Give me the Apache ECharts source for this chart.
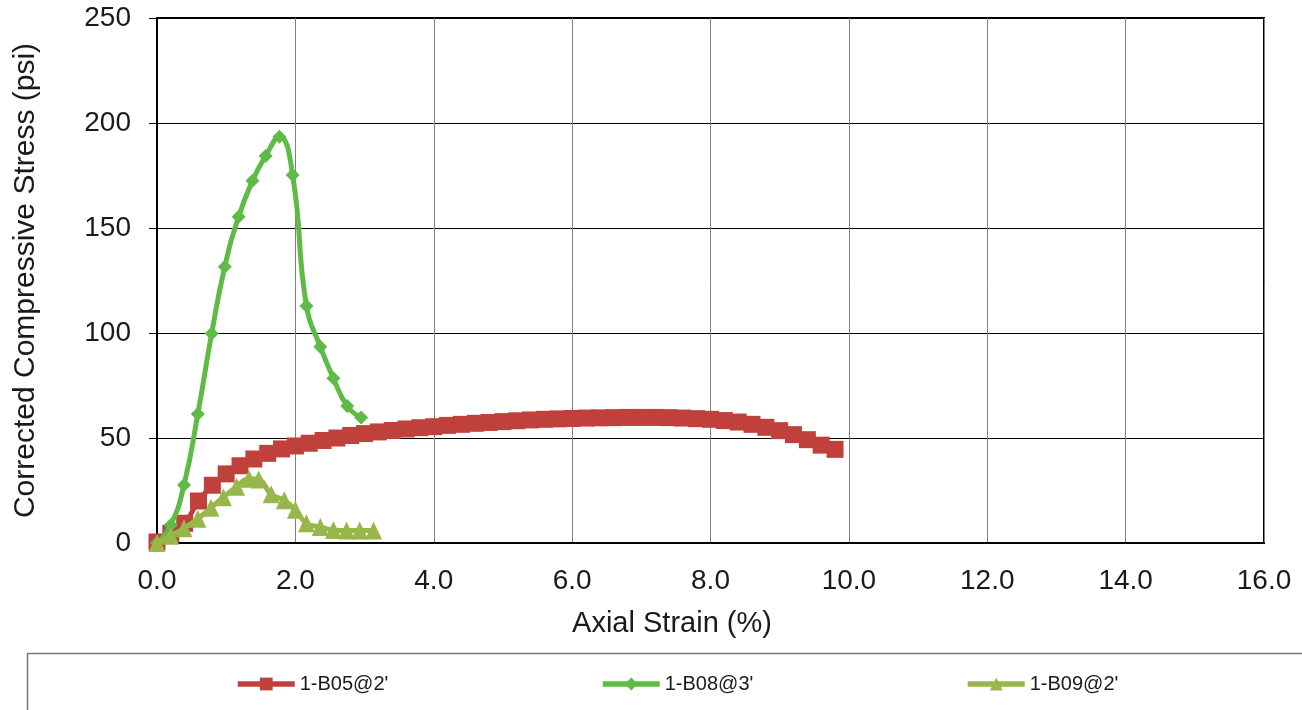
<!DOCTYPE html>
<html>
<head>
<meta charset="utf-8">
<script src="https://cdn.jsdelivr.net/npm/echarts@6/dist/echarts.min.js"></script>
<style>
html,body{margin:0;padding:0;background:#fff;}
#chart{width:1302px;height:710px;}
</style>
</head>
<body>
<div id="chart"></div>
<script>
// ---- Data ----
var seriesNames = ["1-B05@2'", "1-B08@3'", "1-B09@2'"];

var b05Strain = [0.0, 0.2, 0.4, 0.6, 0.8, 1.0, 1.2, 1.4, 1.6, 1.8,
                 2.0, 2.2, 2.4, 2.6, 2.8, 3.0, 3.2, 3.4, 3.6, 3.8,
                 4.0, 4.2, 4.4, 4.6, 4.8, 5.0, 5.2, 5.4, 5.6, 5.8,
                 6.0, 6.2, 6.4, 6.6, 6.8, 7.0, 7.2, 7.4, 7.6, 7.8,
                 8.0, 8.2, 8.4, 8.6, 8.8, 9.0, 9.2, 9.4, 9.6, 9.8];
var b05Stress = [0.5, 4.6, 9.4, 20.0, 27.5, 32.9, 36.8, 40.0, 42.7, 44.8,
                 46.2, 47.5, 48.8, 50.0, 51.2, 52.1, 52.9, 53.6, 54.3, 54.9,
                 55.4, 56.0, 56.5, 57.0, 57.4, 57.8, 58.2, 58.6, 58.9, 59.1,
                 59.3, 59.5, 59.6, 59.7, 59.8, 59.8, 59.8, 59.7, 59.5, 59.2,
                 58.9, 58.3, 57.6, 56.5, 55.1, 53.5, 51.6, 49.2, 46.6, 44.6];

var b08Strain = [0.0, 0.2, 0.39, 0.59, 0.79, 0.98, 1.18, 1.38, 1.57, 1.77,
                 1.96, 2.16, 2.36, 2.55, 2.75, 2.95];
var b08Stress = [0.0, 8.6, 27.6, 61.4, 99.8, 131.6, 155.4, 172.5, 184.3, 193.5,
                 175.2, 112.9, 93.5, 78.4, 65.2, 59.8];

var b09Strain = [0.0, 0.2, 0.39, 0.59, 0.78, 0.96, 1.15, 1.33, 1.47, 1.65,
                 1.84, 2.0, 2.16, 2.36, 2.55, 2.74, 2.93, 3.13];
var b09Stress = [0.0, 3.5, 7.0, 11.5, 16.8, 21.8, 26.8, 30.6, 30.2, 23.2,
                 20.3, 15.8, 9.4, 7.6, 6.2, 5.9, 5.9, 5.9];

var xTicks = [0, 2, 4, 6, 8, 10, 12, 14, 16];
var yTicks = [0, 50, 100, 150, 200, 250];

function pairs(xs, ys) {
  var out = [];
  for (var i = 0; i < xs.length; i++) out.push([xs[i], ys[i]]);
  return out;
}

var FONT = "'Liberation Sans', Arial, sans-serif";
var colors = ['#C0413B', '#5DBB46', '#98B74A'];

var chart = echarts.init(document.getElementById('chart'), null, {renderer: 'canvas'});

function legendAt(name, left) {
  return {
    data: [name],
    left: left,
    top: 674,
    itemWidth: 57,
    itemHeight: 16,
    padding: 0,
    lineStyle: {width: 5.5},
    textStyle: {fontFamily: FONT, fontSize: 20, color: '#1a1a1a'},
    selectedMode: false
  };
}

var option = {
  animation: false,
  backgroundColor: '#ffffff',
  color: colors,
  grid: {
    left: 157, right: 38, top: 18, bottom: 167,
    show: true, borderColor: '#000', borderWidth: 2, backgroundColor: 'transparent'
  },
  graphic: [{
    type: 'polyline',
    shape: {points: [[27.5, 760], [27.5, 653.5], [1310, 653.5]]},
    style: {stroke: '#777', lineWidth: 1.5, fill: null},
    silent: true
  }],
  legend: [legendAt(seriesNames[0], 235), legendAt(seriesNames[1], 600), legendAt(seriesNames[2], 965)],
  xAxis: {
    type: 'value',
    min: xTicks[0], max: xTicks[xTicks.length - 1], interval: 2,
    name: 'Axial Strain (%)',
    nameLocation: 'middle',
    nameGap: 66,
    nameTextStyle: {fontFamily: FONT, fontSize: 29, color: '#1a1a1a', padding: [0, 77, 0, 0]},
    axisLine: {show: true, onZero: false, lineStyle: {color: '#000', width: 2}},
    axisTick: {show: false},
    axisLabel: {
      fontFamily: FONT, fontSize: 28, color: '#1a1a1a', margin: 24,
      formatter: function (v) { return v.toFixed(1); }
    },
    splitLine: {show: true, lineStyle: {color: '#808080', width: 1}}
  },
  yAxis: {
    type: 'value',
    min: yTicks[0], max: yTicks[yTicks.length - 1], interval: 50,
    name: 'Corrected Compressive Stress (psi)',
    nameLocation: 'middle',
    nameGap: 116,
    nameTextStyle: {fontFamily: FONT, fontSize: 30, color: '#1a1a1a'},
    axisLine: {show: true, onZero: false, lineStyle: {color: '#000', width: 2}},
    axisTick: {show: true, inside: false, length: 8, lineStyle: {color: '#000', width: 1}},
    axisLabel: {fontFamily: FONT, fontSize: 28, color: '#1a1a1a', margin: 26},
    splitLine: {show: true, lineStyle: {color: '#000', width: 1}}
  },
  series: [
    {
      name: seriesNames[0], type: 'line', smooth: true,
      data: pairs(b05Strain, b05Stress),
      symbol: 'rect', symbolSize: 17,
      lineStyle: {color: colors[0], width: 5},
      itemStyle: {color: colors[0], borderWidth: 0},
      z: 2
    },
    {
      name: seriesNames[1], type: 'line', smooth: true,
      data: pairs(b08Strain, b08Stress),
      symbol: 'diamond', symbolSize: 14,
      lineStyle: {color: colors[1], width: 5},
      itemStyle: {color: colors[1], borderWidth: 0},
      z: 3
    },
    {
      name: seriesNames[2], type: 'line', smooth: true,
      data: pairs(b09Strain, b09Stress),
      symbol: 'triangle', symbolSize: [17, 18],
      lineStyle: {color: colors[2], width: 5},
      itemStyle: {color: colors[2], borderWidth: 0},
      z: 4
    }
  ]
};

chart.setOption(option);
</script>
</body>
</html>
